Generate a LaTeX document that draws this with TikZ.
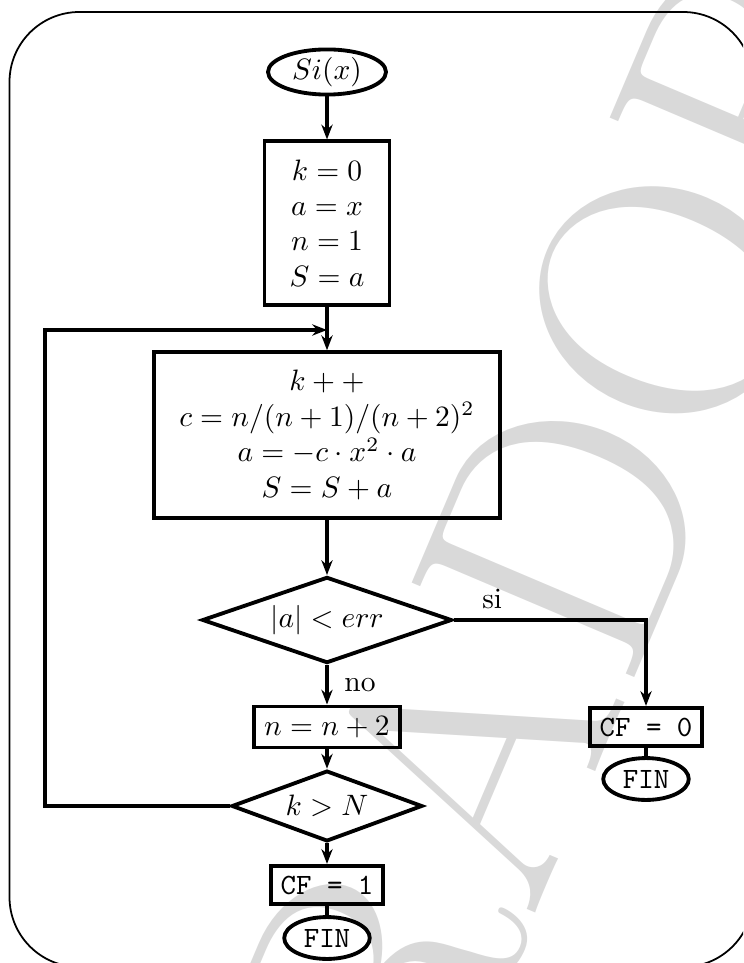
\documentclass[tikz,border=0pt]{standalone}
\usepackage{amsmath,amssymb}
\usetikzlibrary{shapes.geometric,arrows.meta}

\begin{document}
\begin{tikzpicture}[x=0.339pt,y=-0.339pt,
  proc/.style={draw,line width=1.3pt,align=center,inner xsep=8.5pt,inner ysep=6.2pt},
  small/.style={draw,line width=1.3pt},
  term/.style={draw,ellipse,line width=1.3pt,inner sep=0pt},
  dec/.style={draw,diamond,aspect=3,line width=1.3pt,inner sep=0pt},
  arr/.style={line width=1.1pt,-{Stealth[length=5pt,width=3.8pt,inset=1.6pt]}},
  lin/.style={line width=1.1pt}]
\useasboundingbox (0,0) rectangle (743,963);
\clip (0,0) rectangle (743,963);
%watermark
\node[rotate=67,text=black!15,font=\fontsize{120}{120}\selectfont] (wm) at (424,862) {BORRADOR};
%frame
\draw[line width=0.6pt,rounded corners=23.7pt] (9.5,12) rectangle (753,967);
%picture
\node[term,minimum width=40pt,minimum height=15.3pt] (start) at (327,72) {$Si(x)$};
\node[proc] (init) at (327,223) {$k=0$\\$a=x$\\$n=1$\\$S=a$};
\node[proc] (body) at (327,435) {$k++$\\$c=n/(n+1)/(n+2)^2$\\$a=-c\cdot x^2\cdot a$\\$S=S+a$};
\node[dec,minimum width=84.7pt,minimum height=29.2pt] (test) at (327,620) {$|a|<err$};
\node[small] (incr) at (327,727) {$n=n+2$};
\node[dec,minimum width=64.7pt,minimum height=24pt] (stop) at (327,806) {$k>N$};
\node[small] (cfone) at (327,885) {\texttt{CF = 1}};
\node[term,minimum width=29pt,minimum height=14.2pt] (finone) at (327,938) {\texttt{FIN}};
\node[small] (cfzero) at (646,727) {\texttt{CF = 0}};
\node[term,minimum width=29pt,minimum height=14.2pt] (finzero) at (646,779) {\texttt{FIN}};
\coordinate (join) at (327,330);
\coordinate (back) at (45,330);
%arrows
\draw[arr] (start) -- (init);
\draw[arr] (init) -- (body);
\draw[arr] (body) -- (test);
\draw[arr] (test) -- node[right,xshift=2pt]{no} (incr);
\draw[arr] (test.east) -| node[pos=0.1,above]{si} (cfzero.north);
\draw[arr] (incr) -- (stop);
\draw[arr] (stop) -- (cfone);
\draw[lin] (cfone) -- (finone);
\draw[lin] (cfzero) -- (finzero);
\draw[arr] (stop.west) -| (back) -- (join);
\end{tikzpicture}
\end{document}
